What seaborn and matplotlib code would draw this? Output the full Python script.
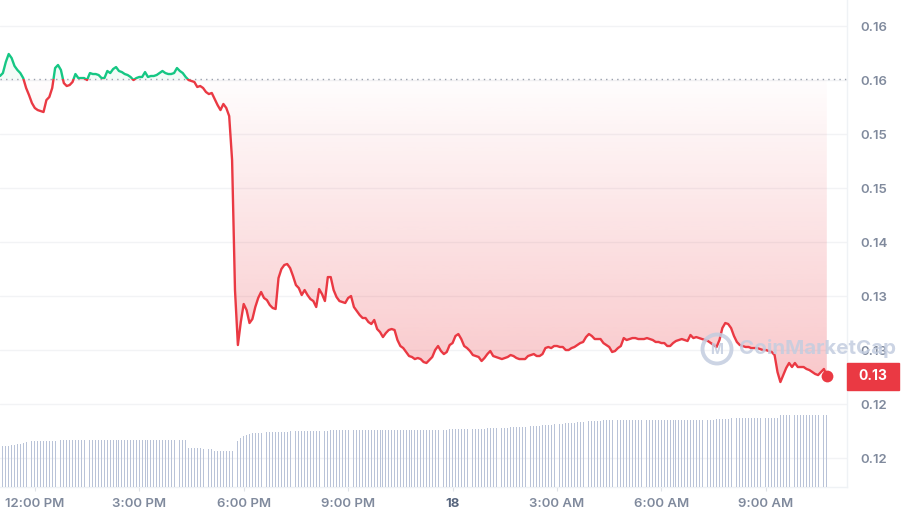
import numpy as np
import pandas as pd
import seaborn as sns
import matplotlib.pyplot as plt
import matplotlib.dates as mdates
import matplotlib.transforms as mtransforms
from matplotlib.patches import Rectangle, Circle

# price every 5 minutes
price = [
    0.15691, 0.15721, 0.15833, 0.15915, 0.15874, 0.15793, 0.15752, 0.15721, 0.15670, 0.15569,
    0.15497, 0.15416, 0.15365, 0.15344, 0.15334, 0.15324, 0.15446, 0.15477, 0.15569, 0.15772,
    0.15803, 0.15752, 0.15619, 0.15589, 0.15599, 0.15630, 0.15711, 0.15670, 0.15670, 0.15670,
    0.15650, 0.15721, 0.15711, 0.15711, 0.15701, 0.15670, 0.15670, 0.15742, 0.15721, 0.15762,
    0.15782, 0.15742, 0.15731, 0.15711, 0.15701, 0.15681, 0.15650, 0.15670, 0.15681, 0.15681,
    0.15731, 0.15681, 0.15691, 0.15691, 0.15701, 0.15721, 0.15742, 0.15721, 0.15711, 0.15711,
    0.15721, 0.15772, 0.15742, 0.15721, 0.15681, 0.15650, 0.15640, 0.15630, 0.15579, 0.15589,
    0.15569, 0.15528, 0.15507, 0.15518, 0.15456, 0.15395, 0.15344, 0.15406, 0.15365, 0.15283,
    0.14835, 0.13511, 0.12951, 0.13185, 0.13369, 0.13307, 0.13175, 0.13216, 0.13338, 0.13430,
    0.13491, 0.13430, 0.13409, 0.13358, 0.13328, 0.13318, 0.13633, 0.13725, 0.13766, 0.13776,
    0.13735, 0.13654, 0.13562, 0.13531, 0.13460, 0.13511, 0.13460, 0.13419, 0.13399, 0.13338,
    0.13521, 0.13470, 0.13399, 0.13643, 0.13643, 0.13511, 0.13440, 0.13399, 0.13389, 0.13379,
    0.13430, 0.13450, 0.13338, 0.13297, 0.13256, 0.13226, 0.13226, 0.13185, 0.13165, 0.13206,
    0.13114, 0.13083, 0.13032, 0.13073, 0.13104, 0.13114, 0.13104, 0.13002, 0.12941, 0.12920,
    0.12880, 0.12839, 0.12829, 0.12808, 0.12819, 0.12808, 0.12778, 0.12768, 0.12798, 0.12829,
    0.12900, 0.12941, 0.12890, 0.12859, 0.12880, 0.12951, 0.12971, 0.13043, 0.13063, 0.13012,
    0.12941, 0.12920, 0.12890, 0.12849, 0.12839, 0.12829, 0.12788, 0.12819, 0.12859, 0.12890,
    0.12839, 0.12829, 0.12819, 0.12808, 0.12819, 0.12829, 0.12849, 0.12839, 0.12819, 0.12808,
    0.12808, 0.12808, 0.12839, 0.12849, 0.12859, 0.12839, 0.12839, 0.12859, 0.12920, 0.12931,
    0.12920, 0.12941, 0.12941, 0.12931, 0.12931, 0.12900, 0.12900, 0.12920, 0.12931, 0.12951,
    0.12971, 0.12982, 0.13032, 0.13063, 0.13043, 0.13012, 0.13012, 0.13012, 0.12971, 0.12951,
    0.12931, 0.12880, 0.12890, 0.12920, 0.12941, 0.13022, 0.13002, 0.13012, 0.13022, 0.13022,
    0.13012, 0.13012, 0.13012, 0.13022, 0.13012, 0.13002, 0.12982, 0.12982, 0.12971, 0.12971,
    0.12941, 0.12941, 0.12971, 0.12992, 0.13002, 0.13012, 0.13002, 0.12992, 0.13053, 0.13022,
    0.13032, 0.13022, 0.13012, 0.13002, 0.12992, 0.12971, 0.12951, 0.12931, 0.13002, 0.13124,
    0.13175, 0.13165, 0.13124, 0.13043, 0.12982, 0.12951, 0.12941, 0.12931, 0.12931, 0.12920,
    0.12920, 0.12920, 0.12910, 0.12900, 0.12900, 0.12890, 0.12880, 0.12849, 0.12676, 0.12574,
    0.12645, 0.12717, 0.12768, 0.12727, 0.12768, 0.12727, 0.12727, 0.12727, 0.12707, 0.12696,
    0.12676, 0.12656, 0.12645, 0.12676, 0.12707, 0.12635,
]

# 24h volume (arbitrary units), one bar per price point
volume = [
    4.10, 4.10, 4.10, 4.10, 4.20, 4.25, 4.30, 4.35, 4.40, 4.50,
    4.55, 4.63, 4.63, 4.63, 4.63, 4.63, 4.63, 4.63, 4.63, 4.63,
    4.63, 4.73, 4.73, 4.73, 4.73, 4.73, 4.73, 4.73, 4.73, 4.73,
    4.73, 4.73, 4.73, 4.73, 4.73, 4.73, 4.73, 4.73, 4.73, 4.73,
    4.73, 4.73, 4.73, 4.73, 4.73, 4.73, 4.73, 4.73, 4.73, 4.73,
    4.73, 4.73, 4.73, 4.73, 4.73, 4.73, 4.73, 4.73, 4.73, 4.73,
    4.73, 4.73, 4.73, 4.73, 4.73, 3.95, 3.95, 3.90, 3.90, 3.90,
    3.85, 3.80, 3.80, 3.80, 3.63, 3.63, 3.63, 3.63, 3.63, 3.63,
    3.63, 4.20, 4.60, 4.90, 5.10, 5.25, 5.35, 5.43, 5.43, 5.43,
    5.43, 5.43, 5.53, 5.53, 5.53, 5.53, 5.53, 5.53, 5.53, 5.53,
    5.63, 5.63, 5.63, 5.63, 5.63, 5.63, 5.63, 5.63, 5.63, 5.63,
    5.63, 5.63, 5.63, 5.63, 5.70, 5.70, 5.70, 5.70, 5.70, 5.70,
    5.70, 5.70, 5.70, 5.70, 5.70, 5.70, 5.70, 5.70, 5.70, 5.70,
    5.70, 5.70, 5.70, 5.70, 5.70, 5.70, 5.70, 5.70, 5.70, 5.70,
    5.70, 5.70, 5.70, 5.70, 5.70, 5.70, 5.70, 5.70, 5.70, 5.70,
    5.70, 5.70, 5.70, 5.70, 5.70, 5.77, 5.77, 5.77, 5.77, 5.77,
    5.77, 5.83, 5.83, 5.83, 5.83, 5.83, 5.83, 5.83, 5.90, 5.90,
    5.90, 5.90, 5.90, 5.90, 5.90, 5.90, 6.05, 6.05, 6.05, 6.05,
    6.05, 6.05, 6.15, 6.15, 6.15, 6.15, 6.15, 6.25, 6.25, 6.25,
    6.25, 6.35, 6.35, 6.35, 6.35, 6.45, 6.45, 6.45, 6.45, 6.53,
    6.53, 6.53, 6.53, 6.63, 6.63, 6.63, 6.63, 6.63, 6.73, 6.73,
    6.73, 6.73, 6.73, 6.73, 6.73, 6.73, 6.73, 6.73, 6.73, 6.73,
    6.73, 6.73, 6.73, 6.73, 6.73, 6.73, 6.73, 6.73, 6.73, 6.73,
    6.73, 6.73, 6.73, 6.73, 6.73, 6.73, 6.73, 6.73, 6.73, 6.73,
    6.73, 6.73, 6.73, 6.73, 6.73, 6.73, 6.73, 6.83, 6.83, 6.83,
    6.83, 6.83, 6.93, 6.93, 6.93, 6.93, 6.93, 6.93, 6.93, 6.93,
    6.93, 6.93, 6.93, 6.93, 6.93, 6.93, 6.93, 6.93, 6.93, 7.23,
    7.23, 7.23, 7.23, 7.23, 7.23, 7.23, 7.23, 7.23, 7.23, 7.23,
    7.23, 7.23, 7.23, 7.23, 7.23, 7.23,
]

open_price = 0.15660
ytick_values = [0.1620, 0.1565, 0.1510, 0.1455, 0.1400, 0.1345, 0.1290, 0.1235, 0.1180]
ytick_labels = ['0.16', '0.16', '0.15', '0.15', '0.14', '0.13', '0.13', '0.12', '0.12']
xtick_times = ['2024-06-17 12:00', '2024-06-17 15:00', '2024-06-17 18:00', '2024-06-17 21:00',
               '2024-06-18 00:00', '2024-06-18 03:00', '2024-06-18 06:00', '2024-06-18 09:00']
xtick_labels = ['12:00 PM', '3:00 PM', '6:00 PM', '9:00 PM', '18', '3:00 AM', '6:00 AM', '9:00 AM']

times = pd.date_range('2024-06-17 11:00', periods=len(price), freq='5min')
df = pd.DataFrame({'time': times, 'price': price, 'volume': volume})

RED = '#ea3943'
GREEN = '#16c784'
GREY = '#808a9d'

sns.set_theme(style='white')
plt.rcParams['font.family'] = ['Inter', 'DejaVu Sans']

fig = plt.figure(figsize=(9.04, 5.22), dpi=100)
ax = fig.add_axes([0, 35 / 522, 847 / 904, 487 / 522])
ax2 = ax.twinx()

# volume bars at the bottom
ax2.bar(df.time, df.volume, width=0.0011, color='#b9c3d8', lw=0)
ax2.set_ylim(0, 48.7)
ax2.axis('off')

# gradient area below the open price
x0n = mdates.date2num(times[0])
x1n = mdates.date2num(times[-1])
low = df.price.min()
poly = ax.fill_between(df.time, np.minimum(df.price, open_price), open_price,
                       facecolor='none', lw=0)
rgba = np.zeros((256, 1, 4))
rgba[..., :3] = (234 / 255, 57 / 255, 67 / 255)
rgba[:, 0, 3] = np.linspace(0.01, 0.28, 256)
im = ax.imshow(rgba, extent=[x0n, x1n, low, open_price], aspect='auto',
               origin='upper', zorder=1)
im.set_clip_path(poly.get_paths()[0], transform=ax.transData)
ax.fill_between(df.time, np.maximum(df.price, open_price), open_price,
                color=GREEN, alpha=0.05, lw=0, zorder=1)

# price line, red below the open, green above
sns.lineplot(data=df, x='time', y='price', ax=ax, color=RED, lw=1.7, zorder=3)
red_line = ax.lines[-1]
red_line.set_clip_path(Rectangle((x0n - 1, 0), 3, open_price, transform=ax.transData))
sns.lineplot(data=df, x='time', y='price', ax=ax, color=GREEN, lw=1.7, zorder=4)
green_line = ax.lines[-1]
green_line.set_clip_path(Rectangle((x0n - 1, open_price), 3, 1, transform=ax.transData))

ax.axhline(open_price, color='#9aa1ad', lw=1, ls=(0, (1, 3)), zorder=2)
ax.plot(times[-1], price[-1], 'o', ms=8.5, color=RED, mec='none', zorder=5)

# last price tag
trans = mtransforms.blended_transform_factory(ax.transAxes, ax.transData)
box_h = 0.00275
ax.add_patch(Rectangle((1.0, price[-1] - box_h / 2), 52 / 847, box_h, transform=trans,
                       color=RED, clip_on=False, zorder=6))
ax.text(1.0 + 26 / 847, price[-1], f'{price[-1]:.2f}', transform=trans, ha='center',
        va='center', color='white', fontsize=10, fontweight='bold', zorder=7, clip_on=False)

ax.set_ylim(0.11505, 0.16465)
ax.set_xlim(times[0], times[0] + pd.Timedelta(hours=24.33))
ax.set_xlabel('')
ax.set_ylabel('')

ax.yaxis.tick_right()
ax.set_yticks(ytick_values, ytick_labels)
ax.tick_params(axis='y', length=0, pad=9.4, labelcolor=GREY, labelsize=9.5)
ax.set_xticks(pd.to_datetime(xtick_times), xtick_labels)
ax.tick_params(axis='x', length=3, width=0.8, color='#dfe3e8', pad=5,
               labelcolor=GREY, labelsize=9.5, bottom=True)
for lbl in ax.get_xticklabels() + ax.get_yticklabels():
    lbl.set_fontweight('semibold')
for lbl in ax.get_xticklabels():
    if lbl.get_text() == '18':
        lbl.set_fontweight('bold')
        lbl.set_color('#58667e')

ax.grid(axis='y', color='#f2f3f5', lw=1)
ax.grid(axis='x', visible=False)
for side in ['left', 'top']:
    ax.spines[side].set_visible(False)
for side in ['right', 'bottom']:
    ax.spines[side].set_color('#eff2f5')
    ax.spines[side].set_linewidth(1)

# watermark
wm = '#c3cde0'
fig.add_artist(Circle((717 / 100, (522 - 349) / 100), 0.145, transform=fig.dpi_scale_trans,
                      fill=False, lw=2.8, ec=wm, alpha=0.85))
fig.text(717 / 904, 1 - 350 / 522, 'M', fontsize=10, fontweight='bold', color=wm,
         alpha=0.85, ha='center', va='center')
fig.text(739 / 904, 1 - 349 / 522, 'CoinMarketCap', fontsize=14.8, fontweight='bold',
         color=wm, alpha=0.85, ha='left', va='center')

fig.savefig('out.png', dpi=100, facecolor='white')
